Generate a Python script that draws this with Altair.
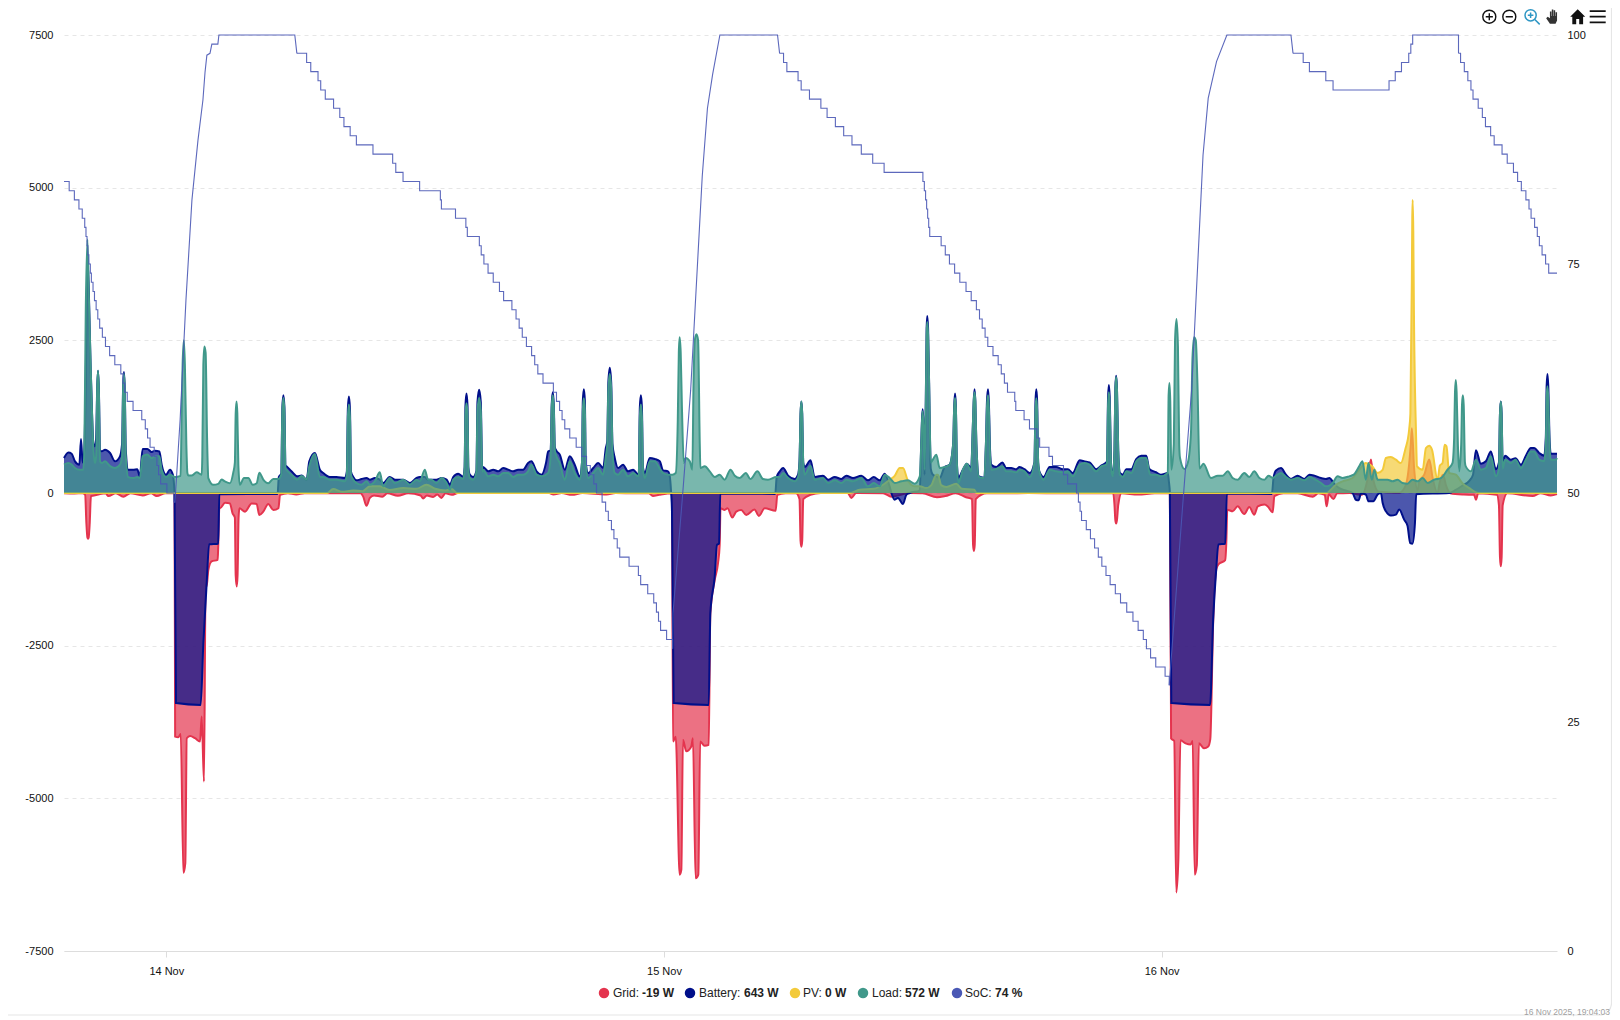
import altair as alt
import pandas as pd

# (hours after 13 Nov 19:04, value)
load = [(0.0,464),(0.21,490),(0.37,464),(0.53,410),(0.74,380),(0.93,380),(0.98,700),(1.05,3000),(1.13,4150),(1.2,3200),(1.3,1900),(1.42,700),(1.49,490),(1.55,600),(1.6,1700),(1.64,2000),(1.68,1700),(1.74,520),(1.82,490),(1.98,520),(2.22,440),(2.46,410),(2.7,465),(2.8,600),(2.85,1700),(2.89,1950),(2.93,1700),(2.98,600),(3.1,260),(3.34,245),(3.53,260),(3.66,245),(3.79,600),(4.02,630),(4.23,570),(4.39,600),(4.6,600),(4.71,380),(4.92,260),(5.11,300),(5.35,260),(5.51,270),(5.62,280),(5.68,1400),(5.72,2100),(5.78,2500),(5.83,2100),(5.9,800),(5.95,330),(6.0,285),(6.15,285),(6.4,340),(6.64,300),(6.67,600),(6.72,2100),(6.77,2400),(6.83,2300),(6.9,900),(6.96,245),(7.2,135),(7.44,150),(7.6,220),(7.76,190),(8.0,160),(8.16,330),(8.24,500),(8.28,1300),(8.32,1500),(8.36,1300),(8.41,450),(8.48,135),(8.68,245),(8.89,245),(9.1,135),(9.29,160),(9.42,330),(9.61,220),(9.85,160),(10.09,230),(10.33,230),(10.48,300),(10.53,1350),(10.58,1555),(10.63,1350),(10.68,400),(10.73,380),(10.97,300),(11.25,220),(11.46,280),(11.7,220),(11.83,440),(12.1,640),(12.34,262),
(12.5,262),(12.82,218),(13.14,218),(13.55,191),(13.64,300),(13.69,1250),(13.74,1450),(13.79,1250),(13.84,300),(13.95,218),(14.11,164),(14.35,136),(14.59,191),(14.75,136),(14.99,191),(15.23,340),(15.39,110),(15.71,246),(15.96,164),(16.36,218),(16.68,136),(17.0,218),(17.16,191),(17.4,382),(17.56,218),(17.72,218),(17.96,164),(18.21,246),(18.45,164),(18.61,55),(18.77,218),(19.01,262),(19.25,230),(19.32,400),(19.36,1300),(19.41,1470),(19.46,1300),(19.5,400),(19.57,246),(19.73,218),(19.89,350),(19.94,1350),(20.02,1555),(20.1,1350),(20.17,350),(20.21,382),(20.46,273),(20.7,300),(20.94,273),(21.18,327),(21.42,327),(21.66,262),(21.9,300),(22.14,300),(22.38,355),(22.54,464),(22.79,300),(23.03,273),(23.35,327),(23.47,600),(23.52,1400),(23.57,1600),(23.62,1400),(23.67,700),(23.75,600),(23.91,491),(24.15,218),(24.39,518),(24.63,327),(24.87,218),(24.98,500),(25.02,1350),(25.07,1550),(25.12,1350),(25.16,500),(25.28,246),(25.52,327),(25.76,409),(26.0,300),(26.13,600),(26.2,800),(26.25,1700),(26.32,1950),(26.39,1700),(26.45,700),(26.56,327),(26.72,300),(26.96,382),(27.2,273),(27.45,327),(27.69,273),(27.72,300),(27.77,1250),(27.82,1450),(27.87,1250),(27.92,400),(28.01,246),(28.25,518),(28.49,518),(28.73,400),
(28.89,327),(29.13,300),(29.34,300),(29.5,327),(29.6,1200),(29.65,2300),(29.69,2550),(29.74,2300),(29.8,1400),(29.89,491),(29.98,573),(30.18,518),(30.3,382),(30.36,1800),(30.42,2500),(30.5,2600),(30.58,2500),(30.66,800),(30.69,409),(30.9,437),(31.14,355),(31.38,262),(31.62,300),(31.86,218),(32.14,382),(32.35,284),(32.59,246),(32.88,327),(33.1,229),(33.44,355),(33.71,229),(33.95,218),(34.35,262),(34.52,262),(34.68,327),(34.92,246),(35.24,191),(35.4,262),(35.47,500),(35.52,1300),(35.56,1500),(35.6,1300),(35.65,500),(35.72,300),(36.0,447),(36.2,218),(36.6,246),(36.85,164),(37.17,207),(37.49,164),(37.73,218),(38.05,191),(38.45,246),(38.77,109),(39.05,164),(39.34,109),(39.58,300),(39.82,246),(40.06,164),(40.38,191),(40.7,207),(41.02,153),(41.27,273),(41.34,800),(41.38,1200),(41.41,1340),(41.45,1100),(41.5,382),(41.56,1500),(41.6,2600),(41.63,2800),(41.67,2600),(41.72,1800),(41.8,500),(41.9,546),(42.07,628),(42.23,409),(42.47,425),(42.71,464),(42.88,800),(42.93,1400),(42.97,1555),(43.01,1400),(43.06,500),(43.13,164),(43.35,382),(43.54,480),(43.75,355),(43.82,1000),(43.87,1500),(43.91,1650),(43.95,1500),(44.0,800),(44.12,262),(44.35,246),(44.46,800),(44.51,1400),(44.56,1600),(44.6,1400),(44.66,600),(44.72,382),(44.96,393),(45.25,437),(45.44,355),(45.68,355),(45.92,338),(46.08,382),(46.32,355),(46.57,262),(46.8,500),(46.85,1350),(46.89,1550),(46.93,1350),(46.98,500),(47.05,327),(47.24,218),(47.53,382),(47.85,355),(48.17,338),(48.41,355),(48.65,273),(48.98,464),(49.22,491),(49.46,464),(49.78,355),(50.02,437),(50.26,464),(50.3,500),(50.35,1450),(50.39,1650),(50.43,1450),(50.5,400),(50.58,273),(50.66,700),(50.7,1700),(50.74,1900),(50.78,1700),(50.84,700),(50.92,300),(51.07,262),(51.23,355),(51.47,327),(51.71,518),(51.95,573),(52.19,573),(52.38,300),(52.66,300),(52.9,273),(53.23,327),
(53.27,1600),(53.31,1800),(53.35,1500),(53.4,382),(53.52,800),(53.58,2500),(53.65,2850),(53.72,2400),(53.78,800),(53.82,573),(54.03,393),(54.2,500),(54.35,1000),(54.42,2200),(54.5,2550),(54.58,2500),(54.66,1800),(54.76,400),(54.95,480),(55.31,246),(55.64,284),(55.88,284),(56.12,355),(56.36,246),(56.6,218),(56.92,327),(57.16,262),(57.4,355),(57.65,246),(57.89,218),(58.09,284),(58.29,246),(58.45,284),(58.69,327),(58.93,262),(59.17,218),(59.49,246),(59.81,207),(60.06,262),(60.3,229),(60.62,164),(60.86,109),(61.02,120),(61.18,164),(61.42,273),(61.66,246),(61.98,273),(62.2,300),(62.46,436),(62.62,520),(62.78,218),(62.91,490),(63.07,218),(63.19,382),(63.35,218),(63.59,218),(63.83,218),(64.07,191),(64.31,218),(64.55,164),(64.79,153),(65.03,218),(65.28,191),(65.52,245),(65.76,164),(66.08,218),(66.4,245),(66.72,382),(66.96,490),(67.04,900),(67.08,1650),(67.12,1850),(67.16,1650),(67.22,800),(67.28,355),(67.38,800),(67.42,1450),(67.46,1600),(67.5,1450),(67.56,500),(67.6,436),(67.85,355),(68.09,545),(68.33,382),(68.57,409),(68.81,600),(69.05,273),(69.2,400),(69.25,1300),(69.29,1500),(69.33,1300),(69.38,400),(69.5,545),(69.77,491),(70.0,545),(70.26,409),(70.5,545),(70.74,680),(70.9,680),(71.14,545),(71.38,520),(71.46,800),(71.5,1550),(71.54,1750),(71.58,1550),(71.64,800),(71.7,545),(71.94,545),(72.0,572)]

battery = [(0.0,573),(0.21,665),(0.37,644),(0.53,518),(0.74,464),(0.82,884),(0.9,500),(0.98,700),(1.05,1900),(1.13,3800),(1.3,1900),(1.42,800),(1.49,764),(1.55,900),(1.6,1720),(1.64,2000),(1.68,1720),(1.74,700),(1.82,683),(1.98,709),(2.22,655),(2.46,518),(2.7,600),(2.8,800),(2.85,1720),(2.89,1980),(2.93,1720),(2.98,700),(3.1,382),(3.34,382),(3.53,390),(3.66,273),(3.79,720),(4.02,720),(4.23,670),(4.39,690),(4.6,680),(4.71,464),(4.92,300),(5.11,382),(5.25,300),(5.33,0),(5.4,-3440),(6.59,-3470),(6.72,-2460),(6.88,-1480),(7.0,-840),(7.44,-830),(7.49,-20),(10.3,-15),(10.36,260),(10.48,320),(10.53,1400),(10.58,1600),(10.63,1400),(10.68,450),(10.73,437),(10.97,355),(11.25,273),(11.46,286),(11.7,218),(11.83,518),(12.1,655),(12.34,382),
(12.5,327),(12.82,262),(13.14,262),(13.55,246),(13.64,350),(13.69,1380),(13.74,1580),(13.79,1380),(13.84,350),(13.95,262),(14.11,207),(14.35,229),(14.59,246),(14.75,218),(14.99,246),(15.23,218),(15.39,164),(15.71,262),(15.96,218),(16.36,218),(16.68,164),(17.0,246),(17.16,262),(17.4,260),(17.56,218),(17.72,218),(17.96,218),(18.21,246),(18.45,218),(18.61,136),(18.77,262),(19.01,317),(19.25,262),(19.32,420),(19.36,1430),(19.41,1630),(19.46,1430),(19.5,420),(19.57,300),(19.73,262),(19.89,360),(19.94,1490),(20.02,1690),(20.1,1490),(20.17,360),(20.21,426),(20.46,355),(20.7,382),(20.94,355),(21.18,409),(21.42,382),(21.66,355),(21.9,382),(22.14,382),(22.38,491),(22.54,518),(22.79,355),(23.03,300),(23.25,500),(23.35,680),(23.47,700),(23.52,1450),(23.57,1650),(23.62,1450),(23.67,750),(23.75,690),(23.91,628),(24.15,382),(24.39,600),(24.63,464),(24.87,273),(24.98,500),(25.02,1500),(25.07,1700),(25.12,1500),(25.16,500),(25.28,327),(25.52,409),(25.76,491),(26.0,409),(26.13,737),(26.2,850),(26.25,1800),(26.32,2050),(26.39,1800),(26.45,800),(26.56,573),(26.72,409),(26.96,464),(27.2,355),(27.45,382),(27.69,300),(27.72,320),(27.77,1400),(27.82,1600),(27.87,1400),(27.92,420),(28.01,327),(28.25,573),(28.49,557),(28.73,520),
(28.89,370),(29.13,355),(29.2,300),(29.28,0),(29.32,-300),(29.4,-3440),(31.09,-3470),(31.17,-1970),(31.38,-1370),(31.49,-850),(31.59,-830),(31.65,-10),(34.3,-15),(34.37,260),(34.52,355),(34.68,409),(34.92,284),(35.24,230),(35.4,300),(35.47,520),(35.52,1300),(35.56,1500),(35.6,1300),(35.65,500),(35.72,425),(36.0,535),(36.2,262),(36.6,284),(36.85,218),(37.17,262),(37.49,230),(37.73,284),(38.05,246),(38.45,284),(38.77,207),(39.05,262),(39.34,207),(39.58,316),(39.82,100),(39.9,0),(40.06,-110),(40.22,-80),(40.46,-180),(40.62,-30),(40.78,0),(41.27,40),(41.34,800),(41.38,1230),(41.41,1370),(41.45,1130),(41.5,300),(41.56,1500),(41.6,2700),(41.63,2900),(41.67,2700),(41.72,1800),(41.8,400),(41.9,300),(42.07,270),(42.23,245),(42.47,425),(42.71,464),(42.88,800),(42.93,1430),(42.97,1630),(43.01,1430),(43.06,500),(43.13,250),(43.35,382),(43.54,480),(43.75,409),(43.82,1000),(43.87,1500),(43.91,1700),(43.95,1500),(44.0,800),(44.12,270),(44.35,250),(44.46,800),(44.51,1500),(44.56,1700),(44.6,1500),(44.66,700),(44.72,464),(44.96,425),(45.25,500),(45.44,410),(45.68,410),(45.92,390),(46.08,425),(46.32,390),(46.57,327),(46.8,500),(46.85,1500),(46.89,1700),(46.93,1500),(46.98,500),(47.05,340),(47.24,262),(47.53,425),(47.85,425),(48.17,390),(48.41,390),(48.65,327),(48.98,535),(49.22,518),(49.46,500),(49.78,390),(50.02,450),(50.26,500),(50.3,520),(50.35,1570),(50.39,1770),(50.43,1570),(50.5,430),(50.58,300),(50.66,700),(50.7,1720),(50.74,1920),(50.78,1720),(50.84,700),(50.92,330),(51.07,300),(51.23,390),(51.47,390),(51.71,557),(51.95,610),(52.19,610),(52.34,393),(52.66,340),(52.9,300),(53.23,327),(53.28,200),(53.33,0),(53.4,-3440),(55.27,-3470),(55.42,-2070),(55.57,-1230),(55.67,-842),(56.0,-830),(56.08,-10),(58.25,-15),(58.33,250),(58.45,370),(58.69,409),(58.93,300),(59.17,230),(59.49,284),(59.81,230),(60.06,300),(60.3,284),(60.62,245),(60.86,230),(61.02,245),(61.26,150),(61.5,80),(61.8,40),(62.14,0),(62.3,-110),(62.43,-120),(62.55,-10),(62.78,-25),(62.91,-136),(63.14,-136),(63.35,-25),(63.51,0),(63.59,-160),(63.75,-300),(63.99,-370),(64.23,-355),(64.39,-270),(64.63,-436),(64.79,-535),(64.92,-820),(65.03,-830),(65.15,-490),(65.21,-20),(66.8,0),(67.12,50),(67.44,120),(67.77,200),(67.95,300),(68.09,700),(68.33,480),(68.57,520),(68.81,680),(69.05,390),(69.2,500),(69.25,1300),(69.29,1500),(69.33,1300),(69.38,500),(69.5,610),(69.77,545),(70.0,570),(70.26,464),(70.5,610),(70.74,737),(70.9,737),(71.14,655),(71.38,610),(71.46,900),(71.5,1750),(71.54,1950),(71.58,1750),(71.64,900),(71.7,644),(71.94,644),(72.0,643)]

grid = [(0.0,-3),(0.5,-8),(0.9,-4),(1.02,-30),(1.08,-500),(1.13,-730),(1.16,-750),(1.19,-730),(1.24,-500),(1.3,-50),(1.6,-30),(2.0,-3),(2.14,-50),(2.5,-3),(2.86,-60),(3.2,-3),(3.8,-40),(4.2,-3),(4.47,-50),(4.9,-3),(5.33,-3),(5.36,-3990),(5.51,-4000),(5.63,-3945),(5.76,-6220),(5.85,-6060),(5.92,-4016),(6.08,-3980),(6.32,-4016),(6.56,-4070),(6.64,-3660),(6.75,-4725),(6.83,-1500),(6.88,-1530),(6.96,-1260),(7.12,-1120),(7.41,-1095),(7.44,-850),(7.49,-240),(7.52,-250),(7.77,-158),(8.0,-170),(8.13,-333),(8.24,-400),(8.28,-1350),(8.33,-1530),(8.37,-1350),(8.42,-400),(8.46,-250),(8.73,-305),(9.05,-170),(9.29,-180),(9.42,-360),(9.61,-305),(9.85,-180),(10.1,-280),(10.34,-250),(10.42,-30),(10.8,-3),(11.2,-25),(11.6,-3),(12.4,-3),(13.2,-5),(14.3,-3),(14.43,-60),(14.59,-210),(14.75,-80),(14.95,-40),(15.35,-60),(15.6,-4),(16.1,-45),(16.6,-3),(17.2,-40),(17.32,-90),(17.5,-40),(17.8,-65),(18.0,-25),(18.2,-80),(18.4,-5),(18.7,-30),(19.0,-2),(23.4,-2),(23.6,-25),(24.0,-2),(24.5,-30),(25.0,-2),(26.16,-25),(26.6,-2),(28.2,-3),(28.4,-50),(28.7,-30),(29.32,-3),(29.37,-4070),(29.5,-3990),(29.69,-6250),(29.77,-6170),(29.85,-4040),(30.01,-4230),(30.25,-4150),(30.33,-4016),(30.46,-6310),(30.59,-6250),(30.68,-4070),(30.89,-4140),(31.09,-4125),(31.17,-1970),(31.38,-1425),(31.54,-1150),(31.62,-850),(31.66,-250),(31.86,-278),(32.0,-250),(32.23,-400),(32.42,-305),(32.66,-278),(32.9,-360),(33.3,-270),(33.51,-375),(33.79,-250),(34.32,-290),(34.4,-30),(34.8,-3),(35.3,-3),(35.47,-100),(35.52,-780),(35.56,-880),(35.6,-780),(35.65,-100),(36.0,-30),(36.5,-2),(37.8,-2),(37.97,-80),(38.2,-2),(39.5,-4),(39.9,-60),(40.8,-2),(41.4,-3),(42.1,-70),(42.5,-50),(43.0,-3),(43.5,-70),(43.79,-100),(43.84,-850),(43.88,-950),(43.92,-850),(43.97,-100),(44.5,-4),(45.5,-4),(46.5,-2),(48.0,-3),(49.8,-4),(50.6,-4),(50.66,-200),(50.7,-440),(50.74,-500),(50.78,-440),(50.84,-200),(51.0,-4),(51.8,-25),(52.6,-4),(53.33,-3),(53.39,-4020),(53.54,-4060),(53.64,-6540),(53.74,-6000),(53.84,-4050),(54.09,-4100),(54.33,-4120),(54.43,-4060),(54.53,-6250),(54.63,-6100),(54.73,-4100),(54.98,-4180),(55.18,-4150),(55.28,-4030),(55.42,-2100),(55.57,-1250),(55.67,-1170),(56.0,-1100),(56.05,-840),(56.1,-273),(56.36,-300),(56.6,-218),(56.92,-344),(57.16,-230),(57.4,-355),(57.57,-220),(57.89,-190),(58.05,-220),(58.29,-316),(58.37,-50),(58.8,-3),(59.5,-4),(60.22,-60),(60.5,-3),(60.8,-30),(60.89,-218),(61.0,-20),(61.22,-100),(61.4,-3),(62.0,-2),(62.6,-30),(62.85,200),(63.03,550),(63.15,200),(63.4,20),(64.4,5),(64.7,120),(64.95,800),(65.0,1060),(65.11,400),(65.28,50),(65.36,200),(65.6,300),(65.84,550),(66.0,250),(66.24,0),(66.35,180),(66.5,300),(66.65,120),(66.85,-3),(67.5,-25),(68.0,-30),(68.09,-110),(68.2,-4),(69.1,-30),(69.2,-200),(69.25,-1050),(69.29,-1200),(69.33,-1050),(69.38,-200),(69.6,-4),(70.83,-50),(71.2,-3),(71.7,-40),(72.0,-19)]

pv = [(0.0,0),(12.7,0),(12.98,65),(13.4,20),(13.95,40),(14.4,30),(14.75,110),(15.23,110),(15.7,50),(16.36,80),(17.0,70),(17.48,135),(17.9,70),(18.4,40),(18.69,65),(18.95,0),(37.9,0),(38.37,55),(39.05,70),(39.5,135),(39.82,218),(40.06,280),(40.3,410),(40.46,410),(40.7,200),(41.02,110),(41.27,110),(41.58,80),(41.83,130),(42.07,300),(42.15,300),(42.3,130),(42.55,100),(43.03,150),(43.3,70),(43.9,55),(44.0,0),(60.9,0),(61.02,30),(61.34,136),(61.66,190),(62.14,245),(62.46,380),(62.78,490),(63.1,436),(63.35,327),(63.59,380),(63.75,573),(63.99,590),(64.23,545),(64.47,490),(64.68,710),(64.87,1040),(64.93,1300),(65.0,3500),(65.02,4500),(65.04,4800),(65.07,4300),(65.1,3000),(65.2,1000),(65.25,436),(65.52,380),(65.68,737),(65.84,775),(65.97,710),(66.24,220),(66.35,447),(66.48,490),(66.58,790),(66.67,764),(66.8,330),(67.12,300),(67.44,160),(67.77,80),(68.09,10),(68.3,0),(72.0,0)]

# State of charge is whole percent: falling stretches step down one percent at a time
soc_fall_1 = [(0.0,84),(0.25,83),(0.5,82),(0.72,81),(0.88,80),(1.0,79),(1.06,78),(1.11,77),(1.15,76),(1.2,75),(1.27,74),(1.32,73),(1.4,72),(1.47,71),(1.55,70),(1.63,69),(1.72,68),(1.85,67),(2.0,66),(2.2,65),(2.45,64),(2.74,63),(2.85,62),(2.92,61),(3.05,60),(3.33,59),(3.75,58),(3.92,57),(4.03,56),(4.15,55),(4.35,54),(4.48,53),(4.56,52),(4.66,51),(4.96,50),(5.3,49)]
soc_rise_1 = [(5.3,49),(5.35,49),(5.6,58),(5.88,71),(6.17,82),(6.46,88.5),(6.7,92.9),(6.8,95.9),(6.89,97.8),(7.04,98),(7.13,99),(7.42,99),(7.47,100),(11.13,100),(11.23,98)]
soc_fall_2 = [(11.23,98),(11.7,97),(11.9,96),(12.25,95),(12.38,94),(12.6,93),(13.0,92),(13.3,91),(13.5,90),(13.8,89),(14.1,88),(14.9,87),(15.85,86),(16.0,85),(16.35,84),(17.15,83),(18.15,82),(18.2,81),(18.88,80),(19.38,79),(19.45,78),(20.03,77),(20.12,76),(20.25,75),(20.45,74),(20.7,73),(21.0,72),(21.2,71),(21.6,70),(21.8,69),(21.95,68),(22.1,67),(22.3,66),(22.55,65),(22.7,64),(22.85,63),(23.1,62),(23.6,61),(23.75,60),(23.9,59),(24.02,58),(24.15,57),(24.39,56),(24.7,55),(24.97,54),(25.2,53),(25.38,52),(25.55,51),(25.68,50),(25.95,49),(26.12,48),(26.25,47),(26.4,46),(26.52,45),(26.68,44),(26.8,43),(27.25,42),(27.7,41),(27.81,40),(28.15,39),(28.44,38),(28.57,37),(28.67,36),(28.77,35),(29.06,34),(29.35,33)]
soc_rise_2 = [(29.35,33),(29.37,36.9),(29.84,50),(30.22,61.2),(30.78,84.6),(31.03,92),(31.28,95.7),(31.63,100),(34.41,100),(34.51,98)]
soc_fall_3 = [(34.51,98),(34.7,97),(34.86,96),(35.4,95),(35.55,94),(35.95,93),(36.5,92),(36.8,91),(37.2,90),(37.6,89),(38.0,88),(38.45,87),(39.0,86),(39.55,85),(41.42,84),(41.49,83),(41.55,82),(41.6,81),(41.65,80),(41.7,79),(41.75,78),(42.3,77),(42.5,76),(42.7,75),(42.95,74),(43.2,73),(43.5,72),(43.75,71),(44.0,70),(44.15,69),(44.28,68),(44.42,67),(44.55,66),(44.8,65),(45.05,64),(45.2,63),(45.35,62),(45.5,61),(45.85,60),(45.9,59),(46.3,58),(46.56,57),(46.92,56),(47.05,55),(47.5,54),(47.67,53),(48.2,52),(48.4,51),(48.83,50),(48.92,49),(49.0,48),(49.07,47),(49.3,46),(49.5,45),(49.7,44),(49.88,43),(50.05,42),(50.25,41),(50.45,40),(50.7,39),(50.95,38),(51.25,37),(51.55,36),(51.8,35),(52.05,34),(52.2,33),(52.4,32),(52.65,31),(53.1,30),(53.3,29)]
soc_rise_3 = [(53.3,29),(53.94,48.4),(54.38,61.3),(54.93,86.9),(55.18,93.1),(55.58,97.1),(56.08,100),(59.17,100),(59.27,98)]
soc_fall_4 = [(59.27,98),(59.76,97),(60.06,96),(60.85,95),(61.2,94),(63.9,95),(64.2,96),(64.5,97),(64.85,98),(64.95,99),(65.04,100),(67.13,100),(67.25,98)]
soc_fall_5 = [(67.25,98),(67.35,97),(67.53,96),(67.7,95),(67.85,94),(67.95,93),(68.2,92),(68.4,91),(68.55,90),(68.8,89),(68.97,88),(69.35,87),(69.6,86),(69.9,85),(70.1,84),(70.28,83),(70.5,82),(70.65,81),(70.75,80),(70.92,79),(71.05,78),(71.15,77),(71.28,76),(71.45,75),(71.6,74),(72.0,74)]

left_ticks = [-7500, -5000, -2500, 0, 2500, 5000, 7500]
right_ticks = [0, 25, 50, 75, 100]
legend_names = ["Grid:", "Battery:", "PV:", "Load:", "SoC:"]
legend_values = ["-19 W", "643 W", "0 W", "572 W", "74 %"]
stamp = "16 Nov 2025, 19:04:03"

RED, NAVY, YELLOW, TEAL, BLUE = "#E4344E", "#000F8A", "#F3CA3A", "#40988A", "#4A58B5"
FONT = "Liberation Sans"
base = pd.Timestamp("2025-11-13T19:04:00")


def frame(rows):
    return pd.DataFrame({
        "time": [(base + pd.Timedelta(hours=h)).strftime("%Y-%m-%dT%H:%M:%SZ") for h, _ in rows],
        "value": [v for _, v in rows],
    })


x_scale = alt.Scale(
    type="utc",
    domain=[alt.DateTime(year=2025, month=11, date=13, hours=19, minutes=4, utc=True),
            alt.DateTime(year=2025, month=11, date=16, hours=19, minutes=4, utc=True)],
)
x_axis = alt.Axis(
    values=[alt.DateTime(year=2025, month=11, date=d, utc=True) for d in (14, 15, 16)],
    format="%d %b", title=None, grid=False, labelAngle=0, labelFont=FONT, labelFontSize=11,
    labelColor="#111111", labelPadding=8, tickColor="#dddddd", tickSize=6,
    domainColor="#dddddd", labelFlush=False, labelOverlap=False,
)
left_axis = alt.Axis(
    values=left_ticks, title=None, labelExpr="'' + datum.value", grid=True, gridColor="#e6e6e6", gridDash=[4, 4],
    domain=False, ticks=False, labelFont=FONT, labelFontSize=11, labelColor="#111111", labelPadding=11,
)
right_axis = alt.Axis(
    values=right_ticks, title=None, orient="right", grid=False, domain=False, ticks=False,
    labelFont=FONT, labelFontSize=11, labelColor="#111111", labelPadding=10,
)
y_left = alt.Scale(domain=[-7500, 7500], nice=False)
y_right = alt.Scale(domain=[0, 100], nice=False)


def area(rows, color, yaxis=None):
    return alt.Chart(frame(rows)).mark_area(
        color=color, fillOpacity=0.7, interpolate="monotone",
        line=alt.LineConfig(color=color, strokeWidth=2),
    ).encode(x=alt.X("time:T", scale=x_scale, axis=x_axis), y=alt.Y("value:Q", scale=y_left, axis=yaxis))


def soc_part(rows, curve, yaxis=None):
    return alt.Chart(frame(rows)).mark_line(color=BLUE, strokeWidth=1.1, opacity=0.9, interpolate=curve).encode(
        x=alt.X("time:T", scale=x_scale, axis=x_axis),
        y=alt.Y("value:Q", scale=y_right, axis=yaxis),
    )


def at(x, y):
    return dict(x=alt.value(x), y=alt.value(y))


card = alt.Chart().mark_rect(fillOpacity=0, stroke="#e6e6e6", strokeWidth=1.2, cornerRadius=12).encode(
    x=alt.value(-70), x2=alt.value(1547.5), y=alt.value(-40), y2=alt.value(980),
)

# legend row, drawn as text so that the values can be bold
legend_y = 958
swatch_x = [540, 626, 731, 799, 893]
name_x = [549, 635, 739, 808, 901]
value_x = [578, 680, 761, 841, 931]
colors = [RED, NAVY, YELLOW, TEAL, BLUE]
decor = []
for i, nm in enumerate(legend_names):
    decor.append(alt.Chart().mark_point(shape="circle", filled=True, size=110, color=colors[i], opacity=1)
                 .encode(**at(swatch_x[i], legend_y)))
    decor.append(alt.Chart().mark_text(text=nm, align="left", baseline="middle", font=FONT, fontSize=12, color="#222222")
                 .encode(**at(name_x[i], legend_y)))
    decor.append(alt.Chart().mark_text(text=legend_values[i], align="left", baseline="middle", font=FONT, fontSize=12,
                                       fontWeight="bold", color="#222222")
                 .encode(**at(value_x[i], legend_y)))

decor.append(alt.Chart().mark_text(text=stamp, align="right", baseline="middle", font=FONT, fontSize=8.5, color="#a0a0a0")
             .encode(**at(1546, 977)))

# toolbar icons
CIRC = "M-1,0A1,1 0 1,1 1,0A1,1 0 1,1 -1,0Z"
icons = [
    (1425.3, CIRC + "M-0.55,0L0.55,0M0,-0.55L0,0.55", False, "#111111", 1.4, 169),
    (1445.3, CIRC + "M-0.55,0L0.55,0", False, "#111111", 1.4, 169),
    (1468, "M0.6,-0.2A0.8,0.8 0 1,1 -1,-0.2A0.8,0.8 0 1,1 0.6,-0.2ZM0.4,0.4L1.1,1.1M-0.6,-0.2L0.2,-0.2M-0.2,-0.6L-0.2,0.2", False, "#2E96C4", 1.5, 196),
    (1489.3, "M-0.45,0.95L-0.95,0.2L-0.75,0L-0.45,0.2L-0.45,-0.7L-0.25,-0.7L-0.25,-0.1L-0.2,-0.1L-0.2,-0.95L0,-0.95L0,-0.1L0.05,-0.1L0.05,-0.85L0.25,-0.85L0.25,-0.1L0.3,-0.1L0.3,-0.6L0.5,-0.6L0.5,0.5L0.3,0.95Z", True, "#333333", 0, 225),
    (1513.7, "M0,-1L1,0L0.72,0L0.72,1L0.2,1L0.2,0.3L-0.2,0.3L-0.2,1L-0.72,1L-0.72,0L-1,0Z", True, "#111111", 0, 225),
    (1533.7, "M-1,-0.7L1,-0.7M-1,0L1,0M-1,0.7L1,0.7", False, "#111111", 1.8, 256),
]
for ix, path, filled, col, sw, sz in icons:
    mk = alt.Chart().mark_point(shape=path, filled=filled, color=col, strokeWidth=sw, size=sz, opacity=1)
    decor.append(mk.encode(**at(ix, -18.3)))

chart = alt.layer(
    area(grid, RED, left_axis),
    area(battery, NAVY),
    area(pv, YELLOW),
    area(load, TEAL),
    soc_part(soc_fall_1, "step-after"),
    soc_part(soc_rise_1, "linear"),
    soc_part(soc_fall_2, "step-after"),
    soc_part(soc_rise_2, "linear", right_axis),
    soc_part(soc_fall_3, "step-after"),
    soc_part(soc_rise_3, "linear"),
    soc_part(soc_fall_4, "step-after"),
    soc_part(soc_fall_5, "step-after"),
    card,
    *decor,
).resolve_scale(y="independent").properties(
    width=1493, height=916,
    padding={"left": 56, "top": 27, "right": 55, "bottom": 66},
    autosize=alt.AutoSizeParams(type="none"),
    background="white",
).configure_view(stroke=None)

chart.save("out.html", embed_options={"renderer": "svg", "actions": False})
